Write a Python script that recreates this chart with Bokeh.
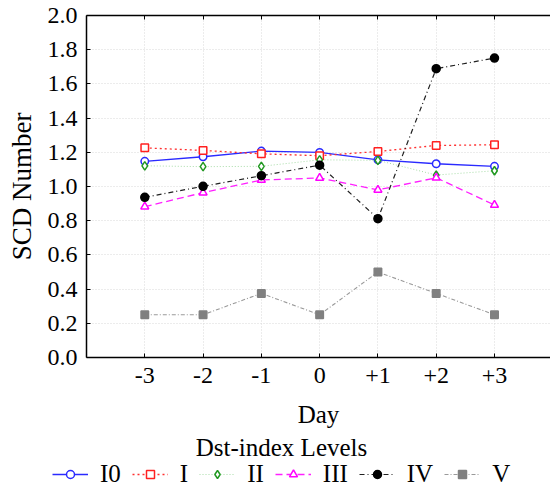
from bokeh.plotting import figure
from bokeh.models import (Range1d, LinearAxis, FixedTicker, Legend, LegendItem, Label)
from bokeh.layouts import column
from bokeh.embed import file_html
from bokeh.resources import INLINE

# ---- data ----
days = [-3, -2, -1, 0, 1, 2, 3]
day_labels = ["-3", "-2", "-1", "0", "+1", "+2", "+3"]
y_ticks = [0.0, 0.2, 0.4, 0.6, 0.8, 1.0, 1.2, 1.4, 1.6, 1.8, 2.0]
level_names = ["I0", "I", "II", "III", "IV", "V"]
scd_i0 = [1.147, 1.174, 1.207, 1.199, 1.156, 1.133, 1.118]
scd_i = [1.226, 1.211, 1.191, 1.180, 1.205, 1.240, 1.244]
scd_ii = [1.121, 1.116, 1.118, 1.156, 1.153, 1.067, 1.092]
scd_iii = [0.882, 0.964, 1.038, 1.050, 0.980, 1.051, 0.892]
scd_iv = [0.937, 1.001, 1.063, 1.125, 0.812, 1.689, 1.751]
scd_v = [0.25, 0.25, 0.375, 0.25, 0.50, 0.375, 0.25]

FONT = "Liberation Serif"

p = figure(width=550, height=430, output_backend="svg", toolbar_location=None,
           x_range=Range1d(-4, 3.961), y_range=Range1d(0, 2.0),
           min_border_left=86, min_border_right=0, min_border_top=15,
           min_border_bottom=72)
p.frame_align = False
p.outline_line_color = None
p.background_fill_color = "white"

# axes
for ax in (p.xaxis[0], p.yaxis[0]):
    ax.major_label_text_font = FONT
    ax.major_label_text_font_size = "24px"
    ax.major_label_text_color = "black"
    ax.axis_label_text_font = FONT
    ax.axis_label_text_font_style = "normal"
    ax.axis_label_text_color = "black"
    ax.axis_line_color = "black"
    ax.axis_line_width = 1.5
    ax.major_tick_in = 4
    ax.major_tick_out = 0
    ax.minor_tick_line_color = None
    ax.major_tick_line_color = "black"

p.xaxis.ticker = FixedTicker(ticks=days)
p.xaxis.major_label_overrides = {d: lab for d, lab in zip(days, day_labels)}
p.xaxis.axis_label = "Day"
p.xaxis.axis_label_text_font_size = "25px"
p.xaxis.major_label_standoff = 10
p.xaxis.axis_label_standoff = 15

p.yaxis.ticker = FixedTicker(ticks=y_ticks)
p.yaxis.major_label_overrides = {t: f"{t:.1f}" for t in y_ticks}
p.yaxis.axis_label = "SCD Number"
p.yaxis.axis_label_text_font_size = "27px"
p.yaxis.major_label_standoff = 9
p.yaxis.axis_label_standoff = 8

top = LinearAxis(ticker=FixedTicker(ticks=days), major_label_overrides={d: "" for d in days},
                 major_label_text_font_size="1px",
                 major_label_standoff=0, major_tick_in=4, major_tick_out=0,
                 minor_tick_line_color=None, axis_line_color="black", axis_line_width=1.5)
p.add_layout(top, "above")

# grid
for g in (p.xgrid[0], p.ygrid[0]):
    g.grid_line_color = "#d8d8d8"
    g.grid_line_dash = "1 2"
    g.grid_line_width = 1
p.xgrid.ticker = FixedTicker(ticks=days)
p.ygrid.ticker = FixedTicker(ticks=y_ticks)

series = [scd_i0, scd_i, scd_ii, scd_iii, scd_iv, scd_v]
styles = [
    dict(lc="#2a2aff", dash="solid", marker="circle", mc="#2a2aff", fill="white", size=7.5, lw=1.3),
    dict(lc="#ff3030", dash="2 3", marker="square", mc="#ff2020", fill="white", size=7.5, lw=1.3),
    dict(lc="#a8dca8", dash="1 2", marker="diamond", mc="#229922", fill="white", size=8.5, lw=1.0),
    dict(lc="#ff20ff", dash="7 4", marker="triangle", mc="#ff00ff", fill="white", size=8, lw=1.3),
    dict(lc="#202020", dash="5 3 1 3", marker="circle", mc="black", fill="black", size=8, lw=1.2),
    dict(lc="#9a9a9a", dash="4 2 1 2", marker="square", mc="#808080", fill="#808080", size=7.5, lw=1.1),
]

for ys, s in zip(series, styles):
    p.line(days, ys, line_color=s["lc"], line_dash=s["dash"], line_width=s["lw"])
    p.scatter(days, ys, marker=s["marker"], size=s["size"], line_color=s["mc"],
              fill_color=s["fill"], line_width=1.5)

# ---- legend strip (its glyphs come from renderers kept out of its view) ----
p2 = figure(width=550, height=58, output_backend="svg", toolbar_location=None,
            x_range=Range1d(-4, 3.961), y_range=Range1d(10, 11),
            x_axis_type=None, y_axis_type=None,
            min_border_left=0, min_border_right=0, min_border_top=0, min_border_bottom=0)
p2.frame_align = False
p2.outline_line_color = None
p2.xgrid.visible = False
p2.ygrid.visible = False

items = []
for name, ys, s in zip(level_names, series, styles):
    lr = p2.line(days, ys, line_color=s["lc"], line_dash=s["dash"], line_width=s["lw"])
    sr = p2.scatter(days, ys, marker=s["marker"], size=s["size"], line_color=s["mc"],
                    fill_color=s["fill"], line_width=1.5)
    items.append(LegendItem(label=name, renderers=[lr, sr]))

legend = Legend(items=items, orientation="horizontal", location=(52, 0),
                border_line_color=None, background_fill_alpha=0,
                label_text_font=FONT, label_text_font_size="25px", label_text_color="black",
                glyph_width=36, glyph_height=20, label_standoff=12, spacing=11,
                label_width=1, padding=0, margin=0)
p2.add_layout(legend, "center")

title = Label(x=281, y=41, x_units="screen", y_units="screen", text="Dst-index Levels",
              text_font=FONT, text_font_size="25px", text_color="black",
              text_align="center", text_baseline="middle")
p2.add_layout(title)

layout = column(p, p2, spacing=0)
open("out.html", "w").write(file_html(layout, INLINE))
